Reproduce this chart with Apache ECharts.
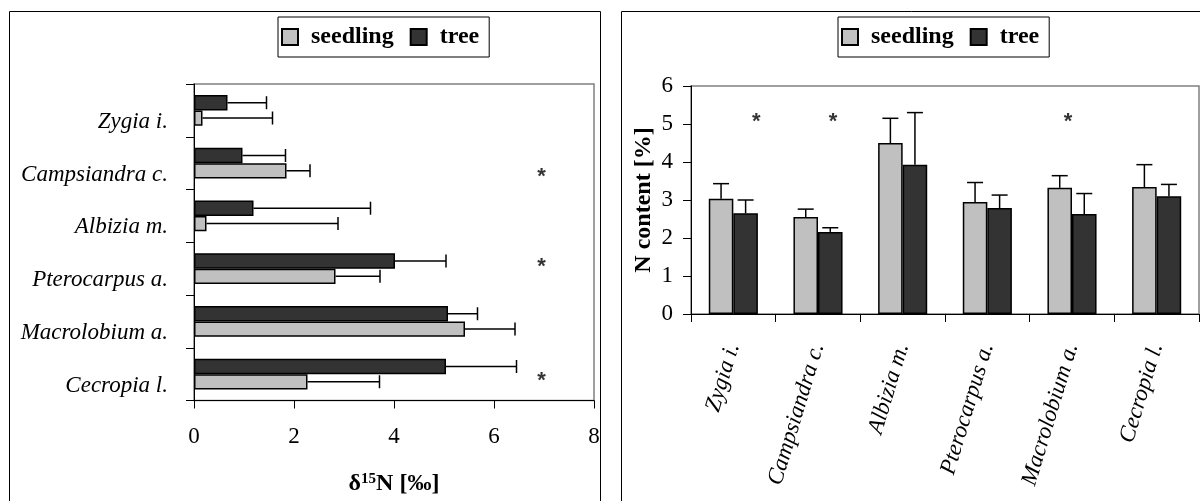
<!DOCTYPE html>
<html>
<head>
<meta charset="utf-8">
<script src="https://cdn.jsdelivr.net/npm/echarts@6/dist/echarts.min.js"></script>
<style>
html,body{margin:0;padding:0;background:#fff}
#main{width:1200px;height:501px}
</style>
</head>
<body>
<div id="main"></div>
<script>
//数据
var species=['Zygia i.','Campsiandra c.','Albizia m.','Pterocarpus a.','Macrolobium a.','Cecropia l.'];

//delta 15N [‰]
var d15Seedling=[0.17,1.85,0.25,2.83,5.42,2.27];
var d15SeedlingErr=[1.40,0.47,2.63,0.89,1.00,1.44];
var d15Tree=[0.67,0.97,1.19,4.02,5.08,5.04];
var d15TreeErr=[0.78,0.86,2.34,1.02,0.59,1.41];
var d15Stars=['Campsiandra c.','Pterocarpus a.','Cecropia l.'];
var d15StarValue=6.95;
var d15Ticks=[0,2,4,6,8];

//N content [%]
var nSeedling=[3.03,2.55,4.50,2.95,3.32,3.34];
var nSeedlingErr=[0.40,0.21,0.65,0.51,0.32,0.59];
var nTree=[2.65,2.16,3.93,2.79,2.63,3.10];
var nTreeErr=[0.35,0.11,1.37,0.34,0.54,0.31];
var nStars=['Zygia i.','Campsiandra c.','Macrolobium a.'];
var nStarValue=5.2;
var nTicks=[0,1,2,3,4,5,6];

//样式
var font='Liberation Serif';
var light='#c0c0c0',dark='#333333';
var d15StarOffset=[[0,14],[0,-2],[0,7]];
var nStarOffset=[[23,6],[15,6],[-4,6]];

//误差线 横向
function hErr(sign){
    return function(params,api){
        var v=api.value(0),c=api.value(1),e=api.value(2);
        var band=api.size([0,1])[1];
        var a=api.coord([v,c]),b=api.coord([v+e,c]);
        var y=a[1]+sign*band*0.145,cap=6.5;
        var st={stroke:'#000',lineWidth:1.5};
        return {type:'group',children:[
            {type:'line',shape:{x1:a[0],y1:y,x2:b[0],y2:y},style:st},
            {type:'line',shape:{x1:b[0],y1:y-cap,x2:b[0],y2:y+cap},style:st}
        ]};
    };
}
//误差线 纵向
function vErr(sign){
    return function(params,api){
        var c=api.value(0),v=api.value(1),e=api.value(2);
        var band=api.size([1,0])[0];
        var a=api.coord([c,v]),b=api.coord([c,v+e]);
        var x=a[0]+sign*band*0.145,cap=8;
        var st={stroke:'#000',lineWidth:1.5};
        return {type:'group',children:[
            {type:'line',shape:{x1:x,y1:a[1],x2:x,y2:b[1]},style:st},
            {type:'line',shape:{x1:x-cap,y1:b[1],x2:x+cap,y2:b[1]},style:st}
        ]};
    };
}

function pairs(vals,errs,horizontal){
    return vals.map(function(v,i){
        return horizontal ? [v,i,errs[i]] : [i,v,errs[i]];
    });
}

var barStyle=function(c){return {color:c,borderColor:'#000',borderWidth:1.5};};
var starLabel={show:true,position:'inside',formatter:'*',fontFamily:'Liberation Sans',fontWeight:'bold',fontSize:22,color:'#000'};
var legendBase={
    orient:'horizontal',icon:'rect',itemWidth:16,itemHeight:16,itemGap:16,
    borderColor:'#000',borderWidth:1,padding:[8,10,8,3],
    data:['seedling','tree'],
    textStyle:{fontFamily:font,fontWeight:'bold',fontSize:24,color:'#000',padding:[0,0,0,8]}
};

var myChart=echarts.init(document.getElementById('main'));
option={
    backgroundColor:'#fff',
    animation:false,
    graphic:[
        {type:'rect',shape:{x:9.5,y:11.5,width:591,height:520},style:{fill:'none',stroke:'#000',lineWidth:1}},
        {type:'rect',shape:{x:621.5,y:11.5,width:600,height:520},style:{fill:'none',stroke:'#000',lineWidth:1}}
    ],
    grid:[
        {left:194,top:84,width:400,height:322,show:true,borderColor:'#808080',borderWidth:1.5,backgroundColor:'#fff'},
        {left:691,top:86,width:508,height:228,show:true,borderColor:'#808080',borderWidth:1.5,backgroundColor:'#fff'}
    ],
    xAxis:[
        {gridIndex:0,type:'value',min:d15Ticks[0],max:d15Ticks[d15Ticks.length-1],interval:2,
         axisLine:{show:true,lineStyle:{color:'#000',width:1}},
         axisTick:{show:true,length:8,lineStyle:{color:'#000'}},
         splitLine:{show:false},
         axisLabel:{margin:25,fontFamily:font,fontSize:23,color:'#000'},
         name:'{a|δ}{s|15}{a|N [‰]}',nameLocation:'middle',nameGap:71,
         nameTextStyle:{rich:{
            a:{fontFamily:font,fontWeight:'bold',fontSize:24,color:'#000'},
            s:{fontFamily:font,fontWeight:'bold',fontSize:15,color:'#000',verticalAlign:'top',padding:[0,0,10,0]}
         }}},
        {gridIndex:1,type:'category',data:species,
         axisLine:{show:true,lineStyle:{color:'#000',width:1}},
         axisTick:{show:true,length:8,lineStyle:{color:'#000'}},
         axisLabel:{rotate:73,margin:30,interval:0,fontFamily:font,fontStyle:'italic',fontSize:23,color:'#000'}}
    ],
    yAxis:[
        {gridIndex:0,type:'category',data:species,inverse:true,
         axisLine:{show:true,lineStyle:{color:'#000',width:1}},
         axisTick:{show:true,length:8,lineStyle:{color:'#000'}},
         axisLabel:{margin:26,interval:0,fontFamily:font,fontStyle:'italic',fontSize:23,color:'#000',verticalAlign:'top'}},
        {gridIndex:1,type:'value',min:nTicks[0],max:nTicks[nTicks.length-1],interval:1,
         axisLine:{show:true,lineStyle:{color:'#000',width:1}},
         axisTick:{show:true,length:8,lineStyle:{color:'#000'}},
         splitLine:{show:false},
         axisLabel:{margin:18,fontFamily:font,fontSize:23,color:'#000'},
         name:'N content [%]',nameLocation:'middle',nameGap:35,nameRotate:90,
         nameTextStyle:{fontFamily:font,fontWeight:'bold',fontSize:24,color:'#000'}}
    ],
    series:[
        //左图
        {name:'tree',type:'bar',xAxisIndex:0,yAxisIndex:0,data:d15Tree,barWidth:'29%',barGap:'0%',itemStyle:barStyle(dark)},
        {name:'seedling',type:'bar',xAxisIndex:0,yAxisIndex:0,data:d15Seedling,barWidth:'29%',barGap:'0%',itemStyle:barStyle(light)},
        {name:'err1',type:'custom',xAxisIndex:0,yAxisIndex:0,renderItem:hErr(-1),data:pairs(d15Tree,d15TreeErr,true),z:5},
        {name:'err2',type:'custom',xAxisIndex:0,yAxisIndex:0,renderItem:hErr(1),data:pairs(d15Seedling,d15SeedlingErr,true),z:5},
        {name:'star1',type:'scatter',xAxisIndex:0,yAxisIndex:0,symbolSize:1,itemStyle:{color:'rgba(0,0,0,0)'},
         data:d15Stars.map(function(s,i){return {value:[d15StarValue,s],label:{offset:d15StarOffset[i]}};}),
         label:starLabel},
        //右图
        {name:'seedling',type:'bar',xAxisIndex:1,yAxisIndex:1,data:nSeedling,barWidth:'29%',barGap:'0%',itemStyle:barStyle(light)},
        {name:'tree',type:'bar',xAxisIndex:1,yAxisIndex:1,data:nTree,barWidth:'29%',barGap:'0%',itemStyle:barStyle(dark)},
        {name:'err3',type:'custom',xAxisIndex:1,yAxisIndex:1,renderItem:vErr(-1),data:pairs(nSeedling,nSeedlingErr,false),z:5},
        {name:'err4',type:'custom',xAxisIndex:1,yAxisIndex:1,renderItem:vErr(1),data:pairs(nTree,nTreeErr,false),z:5},
        {name:'star2',type:'scatter',xAxisIndex:1,yAxisIndex:1,symbolSize:1,itemStyle:{color:'rgba(0,0,0,0)'},
         data:nStars.map(function(s,i){return {value:[s,nStarValue],label:{offset:nStarOffset[i]}};}),
         label:starLabel}
    ]
};
option.legend=[
    Object.assign({},legendBase,{left:278,top:17}),
    Object.assign({},legendBase,{left:838,top:17})
];
myChart.setOption(option);
</script>
</body>
</html>
